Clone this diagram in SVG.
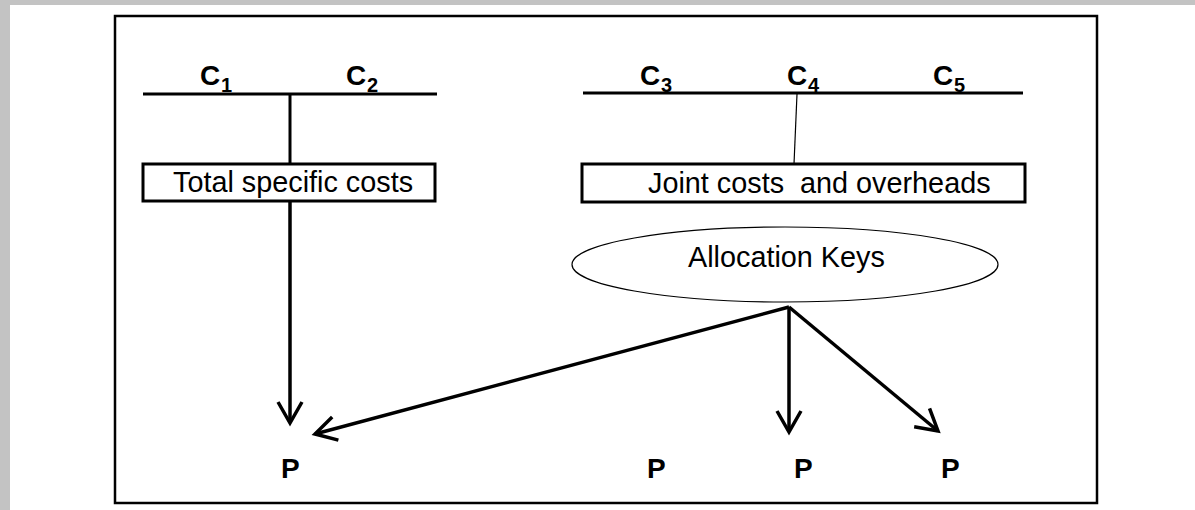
<svg xmlns="http://www.w3.org/2000/svg" width="1195" height="510" viewBox="0 0 1195 510">
  <style>
    .lbl { font-family: "Liberation Sans", Arial, sans-serif; font-size: 28.8px; fill: #000; }
    .c { font-family: "Liberation Sans", Arial, sans-serif; font-size: 28px; font-weight: bold; fill: #000; }
    .sub { font-size: 20px; }
    .box { fill: #fff; stroke: #000; stroke-width: 3; }
    .bar { stroke: #000; stroke-width: 3; fill: none; }
    .conn { stroke: #000; stroke-width: 3.5; fill: none; }
  </style>
  <defs>
    <marker id="arr" markerUnits="userSpaceOnUse" orient="auto" refX="0" refY="0" markerWidth="40" markerHeight="40" overflow="visible">
      <path d="M-21,-12 L0,0 L-21,12" fill="none" stroke="#000" stroke-width="3.5" stroke-linejoin="miter"/>
    </marker>
  </defs>
  <rect x="0" y="0" width="1195" height="510" fill="#fff"/>
  <rect x="0" y="0" width="1195" height="5" fill="#c3c3c3"/>
  <rect x="0" y="0" width="10" height="510" fill="#c3c3c3"/>
  <rect x="115" y="16" width="982" height="487" fill="#fff" stroke="#000" stroke-width="2.5"/>

  <g id="costs-left">
    <line class="bar" x1="143" y1="94" x2="437" y2="94"/>
    <text class="c" x="200" y="85">C<tspan class="sub" x="221" y="92">1</tspan></text>
    <text class="c" x="346" y="85">C<tspan class="sub" x="367" y="92">2</tspan></text>
  </g>
  <g id="costs-right">
    <line class="bar" x1="583" y1="93" x2="1023" y2="93"/>
    <text class="c" x="640" y="85">C<tspan class="sub" x="661" y="92">3</tspan></text>
    <text class="c" x="787" y="85">C<tspan class="sub" x="808" y="92">4</tspan></text>
    <text class="c" x="933" y="85">C<tspan class="sub" x="954" y="92">5</tspan></text>
  </g>
  <g id="total-specific">
    <rect class="box" x="143" y="164" width="292" height="37"/>
    <text class="lbl" x="173" y="192">Total specific costs</text>
  </g>
  <g id="joint-costs">
    <rect class="box" x="582" y="164" width="443" height="38"/>
    <text class="lbl" x="648" y="193" xml:space="preserve">Joint costs  and overheads</text>
  </g>
  <g id="allocation-keys">
    <ellipse cx="785" cy="264.5" rx="213" ry="37.5" fill="#fff" stroke="#000" stroke-width="1.2"/>
    <text class="lbl" x="688" y="267">Allocation Keys</text>
  </g>
  <g id="products">
    <text class="c" x="281" y="478">P</text>
    <text class="c" x="647" y="478">P</text>
    <text class="c" x="794" y="478">P</text>
    <text class="c" x="941" y="478">P</text>
  </g>
  <g id="connectors">
    <line class="bar" x1="290" y1="94" x2="290" y2="164"/>
    <line x1="797" y1="94" x2="794" y2="164" stroke="#000" stroke-width="1.2"/>
    <line class="conn" x1="290" y1="202" x2="290" y2="423" marker-end="url(#arr)"/>
    <line class="conn" x1="789" y1="307" x2="315" y2="434" marker-end="url(#arr)"/>
    <line class="conn" x1="789" y1="307" x2="789" y2="432" marker-end="url(#arr)"/>
    <line class="conn" x1="789" y1="307" x2="938" y2="431" marker-end="url(#arr)"/>
  </g>
</svg>
